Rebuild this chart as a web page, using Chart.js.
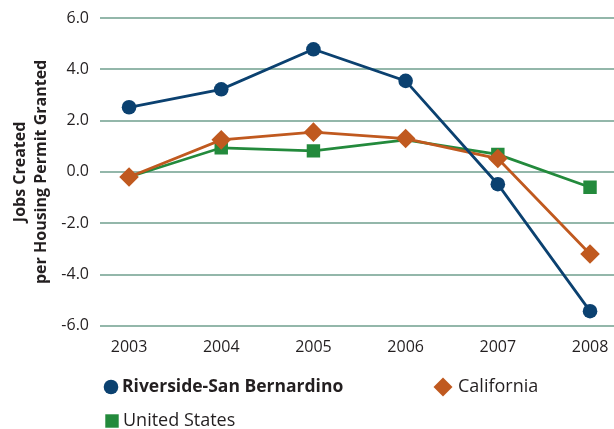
<!DOCTYPE html>
<html>
<head>
<meta charset="utf-8">
<script src="https://cdn.jsdelivr.net/npm/chart.js@4/dist/chart.umd.min.js"></script>
<style>
  html, body { margin: 0; padding: 0; background: #fff; }
  #wrap { width: 614px; height: 429px; }
</style>
</head>
<body>
<div id="wrap"><canvas id="chart"></canvas></div>
<script>
const years = [2003, 2004, 2005, 2006, 2007, 2008];
const riverside = [2.52, 3.22, 4.78, 3.55, -0.48, -5.43];
const california = [-0.2, 1.25, 1.55, 1.3, 0.52, -3.2];
const unitedStates = [-0.2, 0.94, 0.82, 1.25, 0.68, -0.6];
const yTicks = [-6, -4, -2, 0, 2, 4, 6];

const FONT = '"Open Sans", "Noto Sans", sans-serif';
const NAVY = '#0b4170';
const ORANGE = '#c0591f';
const GREEN = '#238a3c';
const GRID = '#93b7aa';
const TEXT = '#231f20';

const toPoints = vals => vals.map((v, i) => ({ x: years[i], y: v }));

// squares that sit right under a California diamond are hidden in the original
const usRadius = ctx => Math.abs(unitedStates[ctx.dataIndex] - california[ctx.dataIndex]) < 0.1 ? 0 : 9.5;

// legend drawn by hand so the first label can be bold
const legendPlugin = {
    id: 'customLegend',
    afterDraw(chart) {
        const ctx = chart.ctx;
        const items = [
            { ds: 0, x: 111, y: 387, gap: 11, font: 'bold 17.5px ', r: 7.3 },
            { ds: 1, x: 443, y: 387, gap: 15, font: '18px ', r: 9.5 },
            { ds: 2, x: 112, y: 421, gap: 11, font: '18px ', r: 9.5 }
        ];
        ctx.save();
        items.forEach(it => {
            const ds = chart.data.datasets[it.ds];
            ctx.fillStyle = ds.pointBackgroundColor;
            ctx.strokeStyle = ds.pointBackgroundColor;
            Chart.helpers.drawPoint(ctx, { pointStyle: ds.pointStyle, radius: it.r, borderWidth: 0 }, it.x, it.y);
            ctx.font = it.font + FONT;
            ctx.fillStyle = TEXT;
            ctx.textBaseline = 'middle';
            ctx.fillText(ds.label, it.x + it.gap, it.y);
        });
        ctx.restore();
    }
};

new Chart(document.getElementById('chart'), {
    type: 'line',
    data: {
        datasets: [
            {
                label: 'Riverside-San Bernardino',
                data: toPoints(riverside),
                borderColor: NAVY,
                backgroundColor: NAVY,
                pointBackgroundColor: NAVY,
                pointBorderWidth: 0,
                borderWidth: 2.8,
                pointStyle: 'circle',
                pointRadius: 7.3,
                pointHoverRadius: 7.3
            },
            {
                label: 'California',
                data: toPoints(california),
                borderColor: ORANGE,
                backgroundColor: ORANGE,
                pointBackgroundColor: ORANGE,
                pointBorderWidth: 0,
                borderWidth: 2.8,
                pointStyle: 'rectRot',
                pointRadius: 9.8,
                pointHoverRadius: 9.8
            },
            {
                label: 'United States',
                data: toPoints(unitedStates),
                borderColor: GREEN,
                backgroundColor: GREEN,
                pointBackgroundColor: GREEN,
                pointBorderWidth: 0,
                borderWidth: 2.8,
                pointStyle: 'rect',
                pointRadius: usRadius,
                pointHoverRadius: usRadius
            }
        ]
    },
    options: {
        responsive: true,
        maintainAspectRatio: false,
        animation: false,
        layout: { autoPadding: false, padding: { top: 18, right: 0, bottom: 68, left: 0 } },
        plugins: {
            legend: { display: false },
            tooltip: { enabled: false }
        },
        scales: {
            x: {
                type: 'linear',
                min: 2002.685,
                max: 2008.26,
                afterFit: scale => { scale.paddingLeft = 0; scale.paddingRight = 0; },
                grid: { display: false },
                border: { display: false },
                ticks: {
                    stepSize: 1,
                    includeBounds: false,
                    padding: 4,
                    color: TEXT,
                    font: { family: FONT, size: 16 },
                    callback: v => String(v)
                }
            },
            y: {
                min: -6,
                max: 6,
                afterFit: scale => { scale.width = 100; scale.paddingTop = 0; scale.paddingBottom = 0; },
                afterBuildTicks: scale => { scale.ticks = yTicks.map(v => ({ value: v })); },
                grid: { color: GRID, lineWidth: 2, drawTicks: false },
                border: { display: false },
                ticks: {
                    padding: 11,
                    color: TEXT,
                    font: { family: FONT, size: 16 },
                    callback: v => v.toFixed(1)
                },
                title: {
                    display: true,
                    text: ['Jobs Created', 'per Housing Permit Granted'],
                    color: TEXT,
                    font: { family: FONT, size: 16, weight: 'bold', lineHeight: 1.3 },
                    padding: { top: 10, bottom: 0 }
                }
            }
        }
    },
    plugins: [legendPlugin]
});
</script>
</body>
</html>
